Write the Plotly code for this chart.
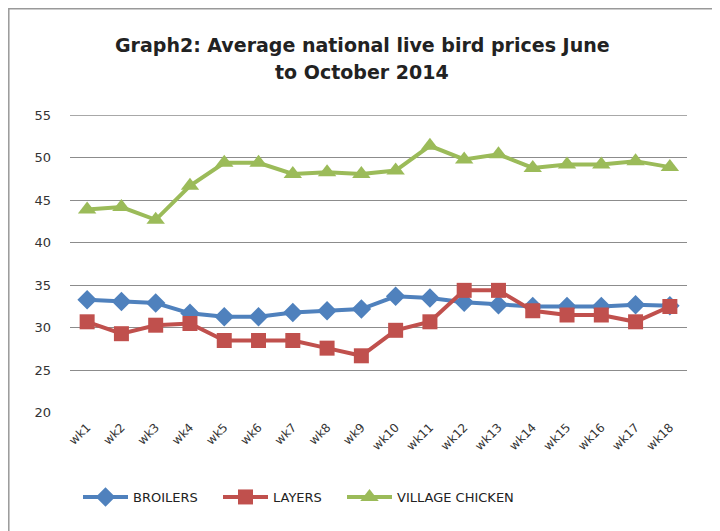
import plotly.graph_objects as go

weeks = ["wk1", "wk2", "wk3", "wk4", "wk5", "wk6", "wk7", "wk8", "wk9",
         "wk10", "wk11", "wk12", "wk13", "wk14", "wk15", "wk16", "wk17", "wk18"]
broilers = [33.3, 33.1, 32.9, 31.7, 31.3, 31.3, 31.8, 32.0, 32.2,
            33.7, 33.5, 33.0, 32.7, 32.5, 32.5, 32.5, 32.7, 32.6]
layers = [30.7, 29.3, 30.3, 30.5, 28.5, 28.5, 28.5, 27.6, 26.7,
          29.7, 30.7, 34.4, 34.4, 32.0, 31.5, 31.5, 30.7, 32.5]
village = [43.9, 44.2, 42.7, 46.7, 49.4, 49.4, 48.1, 48.3, 48.1,
           48.5, 51.4, 49.8, 50.4, 48.8, 49.2, 49.2, 49.6, 48.9]

title_line1 = "Graph2: Average national live bird prices June"
title_line2 = "to October 2014"

fig = go.Figure()
fig.add_trace(go.Scatter(x=weeks, y=broilers, name="BROILERS", mode="lines+markers",
                         line=dict(color="#4F81BD", width=4), legend="legend",
                         marker=dict(symbol="diamond", size=15, color="#4F81BD")))
fig.add_trace(go.Scatter(x=weeks, y=layers, name="LAYERS", mode="lines+markers",
                         line=dict(color="#C0504D", width=4), legend="legend2",
                         marker=dict(symbol="square", size=15, color="#C0504D")))
fig.add_trace(go.Scatter(x=weeks, y=village, name="VILLAGE CHICKEN", mode="lines+markers",
                         line=dict(color="#9BBB59", width=4), legend="legend3",
                         marker=dict(symbol="triangle-up", size=16, color="#9BBB59")))

# page has an 8px body margin: figure origin sits at page (8, 8)
OFF = 8
W, Hf = 720 - OFF, 531 - OFF
L, R, T, B = 70 - OFF, 720 - 687, 115 - OFF, 531 - 413
PW = W - L - R
PH = Hf - T - B

def py(page_y):
    return (413 - page_y) / PH

def px(page_x):
    return (page_x - 70) / PW

def leg(page_x):
    return dict(orientation="h", x=px(page_x), xanchor="left", y=py(497), yanchor="middle",
                font=dict(size=13, family="DejaVu Sans, sans-serif", color="#222"),
                itemwidth=45, bgcolor="rgba(0,0,0,0)")

fig.update_layout(
    width=W, height=Hf,
    margin=dict(l=L, r=R, t=T, b=B, autoexpand=False),
    paper_bgcolor="white", plot_bgcolor="white",
    font=dict(family="DejaVu Sans, sans-serif", color="#222"),
    xaxis=dict(tickangle=-45, showgrid=False, showline=False, automargin=False,
               tickfont=dict(size=12, family="DejaVu Sans, sans-serif", color="#333"),
               range=[-0.5, 17.5], ticks="", ticklabelstandoff=4),
    yaxis=dict(range=[19.97, 55.03], tickvals=[20, 25, 30, 35, 40, 45, 50, 55],
               showgrid=True, gridcolor="#8c8c8c", automargin=False,
               gridwidth=1, zeroline=False, showline=False,
               tickfont=dict(size=13, family="DejaVu Sans, sans-serif", color="#333"),
               ticks="", ticklabelstandoff=18),
    legend=leg(78),
    legend2=leg(218),
    legend3=leg(342),
    showlegend=True,
    annotations=[
        dict(text="<b>" + title_line1 + "</b>", xref="paper", yref="paper",
             x=px(362), y=py(45), xanchor="center", yanchor="middle", showarrow=False,
             font=dict(size=19, family="DejaVu Sans, sans-serif", color="#222")),
        dict(text="<b>" + title_line2 + "</b>", xref="paper", yref="paper",
             x=px(362), y=py(72), xanchor="center", yanchor="middle", showarrow=False,
             font=dict(size=19, family="DejaVu Sans, sans-serif", color="#222")),
    ],
    shapes=[
        dict(type="line", xref="paper", yref="y", x0=0, x1=1, y0=55, y1=55,
             line=dict(color="#8c8c8c", width=1), layer="below"),
        dict(type="rect", xref="paper", yref="paper", x0=px(8.8), x1=px(717.5),
             y0=py(540), y1=py(8.8), line=dict(color="#999", width=1.5)),
    ],
)

fig.write_html("out.html")
